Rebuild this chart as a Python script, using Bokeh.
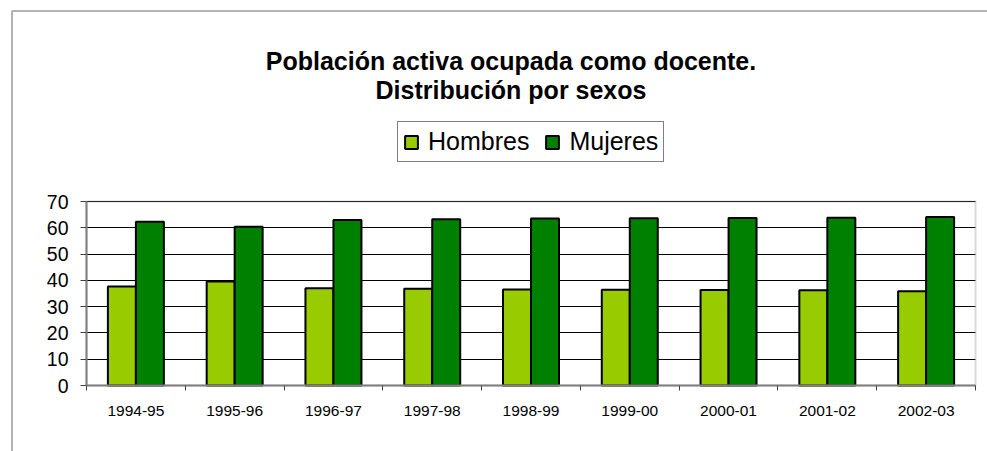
import numpy as np
from bokeh.plotting import figure
from bokeh.models import (ColumnDataSource, Range1d, FixedTicker, Legend,
                          LegendItem, Label, BoxAnnotation)
from bokeh.embed import file_html
from bokeh.resources import INLINE

# ---------------- data ----------------
title_line1 = "Población activa ocupada como docente."
title_line2 = "Distribución por sexos"
categories = ["1994-95", "1995-96", "1996-97", "1997-98", "1998-99",
              "1999-00", "2000-01", "2001-02", "2002-03"]
hombres = [37.7, 39.6, 37.0, 36.8, 36.5, 36.4, 36.3, 36.2, 35.9]
mujeres = [62.3, 60.4, 63.0, 63.2, 63.5, 63.6, 63.7, 63.8, 64.1]
series_names = ["Hombres", "Mujeres"]
y_ticks = [0, 10, 20, 30, 40, 50, 60, 70]

FONT = "Liberation Sans"
C_H = "#99CC00"
C_M = "#008000"

W, H = 987, 451
# plot-area placement on the canvas (pixels)
PL, PR, PT, PB = 86, 975, 201, 385

n = len(categories)
ymax = y_ticks[-1]
centers = np.arange(n) + 0.5
bar_w = 0.2834
src = ColumnDataSource(dict(
    xh=centers - bar_w / 2, xm=centers + bar_w / 2, h=hombres, m=mujeres))

# ranges chosen so the whole canvas is the frame and the plot area sits at PL..PR, PT..PB
sx = (PR - PL) / n
sy = (PB - PT) / ymax
x_range = Range1d(-PL / sx, n + (W - PR) / sx)
y_range = Range1d(-(H - PB) / sy, ymax + PT / sy)

p = figure(width=W, height=H, output_backend="svg", toolbar_location=None,
           x_range=x_range, y_range=y_range, min_border=0, title=None)
p.background_fill_color = "white"
p.border_fill_color = "white"
p.outline_line_color = None

# horizontal grid lines inside plot area
p.xgrid.visible = False
p.ygrid.ticker = FixedTicker(ticks=y_ticks)
p.ygrid.grid_line_color = "black"
p.ygrid.grid_line_width = 1
p.ygrid.bounds = (0, ymax)
p.ygrid.cross_bounds = (0, n)

r1 = p.vbar(x="xh", top="h", width=bar_w, bottom=0, source=src,
            fill_color=C_H, line_color="black", line_width=2)
r2 = p.vbar(x="xm", top="m", width=bar_w, bottom=0, source=src,
            fill_color=C_M, line_color="black", line_width=2)

# plot-area border (gray)
p.add_layout(BoxAnnotation(left=0, right=n, bottom=0, top=ymax,
                           fill_alpha=0, line_color="#808080", line_width=2))

# y axis
ya = p.yaxis[0]
ya.fixed_location = 0
ya.bounds = (0, ymax)
ya.ticker = FixedTicker(ticks=y_ticks)
ya.major_label_text_font = FONT
ya.major_label_text_font_size = "19.5px"
ya.major_label_text_color = "black"
ya.major_tick_out = 6
ya.major_tick_in = 0
ya.minor_tick_out = 0
ya.minor_tick_in = 0
ya.major_label_standoff = 12
ya.axis_line_color = "#808080"
ya.axis_line_width = 2
ya.major_tick_line_color = "#404040"

# x axis: labels at category centres, ticks at boundaries
xa = p.xaxis[0]
xa.fixed_location = 0
xa.bounds = (0, n)
xa.ticker = FixedTicker(ticks=list(centers), minor_ticks=list(range(n + 1)))
xa.major_label_overrides = {float(c): lab for c, lab in zip(centers, categories)}
xa.major_label_text_font = FONT
xa.major_label_text_font_size = "15.5px"
xa.major_label_text_color = "black"
xa.major_tick_out = 0
xa.major_tick_in = 0
xa.minor_tick_out = 5
xa.minor_tick_in = 0
xa.minor_tick_line_color = "#404040"
xa.major_label_standoff = 15
xa.axis_line_color = "#808080"
xa.axis_line_width = 2

# titles (screen units = canvas pixels from bottom-left)
for txt, base in [(title_line1, 60), (title_line2, 89.5)]:
    p.add_layout(Label(x=510.5, y=H - base, x_units="screen", y_units="screen", text=txt,
                       text_align="center", text_baseline="alphabetic",
                       text_font=FONT, text_font_size="25px",
                       text_font_style="bold", text_color="black"))

legend = Legend(items=[LegendItem(label=series_names[0], renderers=[r1]),
                       LegendItem(label=series_names[1], renderers=[r2])],
                location=(397, H - 162), orientation="horizontal",
                label_text_font=FONT, label_text_font_size="25px",
                label_text_color="black", glyph_width=16, glyph_height=16,
                label_standoff=9, spacing=15, padding=5, margin=0,
                border_line_color="black", border_line_width=1,
                background_fill_color="white", background_fill_alpha=1)
p.add_layout(legend, "center")

# outer chart-area border (left and top edges visible)
p.add_layout(BoxAnnotation(left=11.5, right=3000, top=H - 10.5, bottom=-3000,
                           left_units="screen", right_units="screen",
                           top_units="screen", bottom_units="screen",
                           fill_alpha=0, line_color="black", line_width=2))

open("out.html", "w").write(file_html(p, INLINE))
